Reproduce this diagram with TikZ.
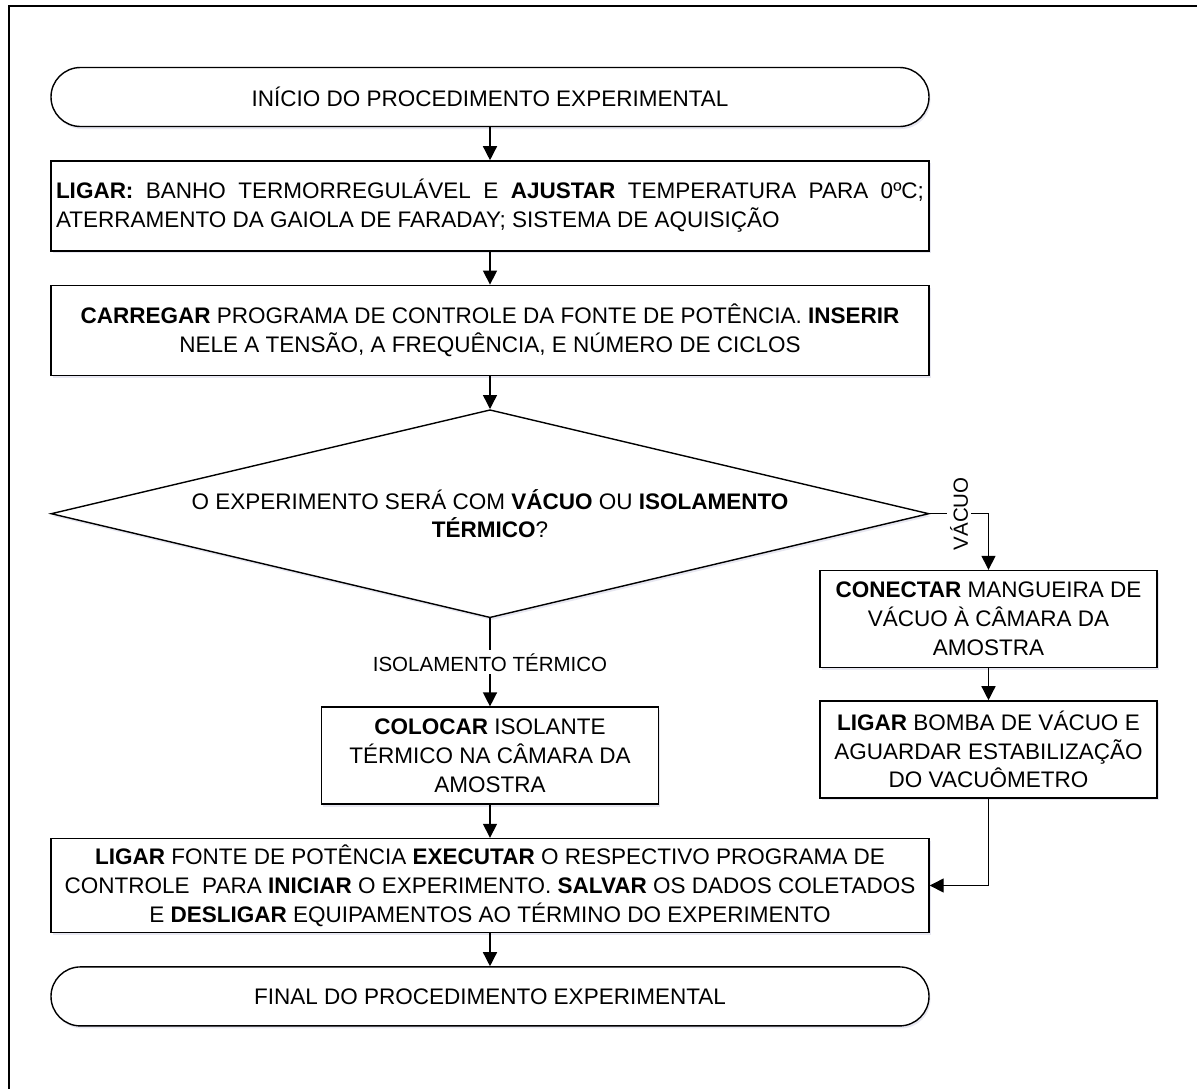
\documentclass[tikz,border=0pt]{standalone}
\usepackage{fontspec}
\setmainfont{Liberation Sans}
\usetikzlibrary{arrows.meta,chains,positioning,scopes,shapes.geometric,shadows}
\newcommand\boxfont{\fontsize{22.5}{28.8}\selectfont}
\newcommand\tagfont{\fontsize{20.5}{24}\selectfont}
\tikzset{>={Triangle[length=14pt,width=14pt]},
         every on chain/.append style={join},
         every join/.style={->}}

\begin{document}
\begin{tikzpicture}[x=1pt, y=-1pt, line width=1.4pt,
	box/.style={draw, fill=white, font=\boxfont,
		drop shadow={shadow xshift=1.5pt, shadow yshift=-2.5pt, fill=blue!25!gray, opacity=0.15}},
	terminal/.style={box, rounded corners=29.5pt, minimum width=878pt, minimum height=59pt},
	process/.style={box, minimum width=878pt, minimum height=90pt, align=center},
	sidebox/.style={box, minimum width=337pt, minimum height=97pt, align=center},
	decision/.style={box, diamond, shape aspect=4.22, minimum width=878pt,
		minimum height=208pt, inner sep=0pt, align=center},
	tag/.style={fill=white, font=\tagfont, inner sep=3pt}]

	\useasboundingbox (0,0) rectangle (1197,1088);
	% outer frame
	\draw (1215,6) -- (9,6) -- (9,1100);

	% main column
	\node[terminal] (ini) at (490,97) {INÍCIO DO PROCEDIMENTO EXPERIMENTAL};
	\node[process, below=33pt of ini, text width=868pt, inner xsep=5pt, align=justify] (lig)
		{\textbf{LIGAR:} BANHO TERMORREGULÁVEL E \textbf{AJUSTAR} TEMPERATURA PARA 0ºC;\linebreak
		 ATERRAMENTO DA GAIOLA DE FARADAY; SISTEMA DE AQUISIÇÃO};
	\node[process, below=33pt of lig] (car)
		{\textbf{CARREGAR} PROGRAMA DE CONTROLE DA FONTE DE POTÊNCIA. \textbf{INSERIR}\\
		 NELE A TENSÃO, A FREQUÊNCIA, E NÚMERO DE CICLOS};
	\node[decision, below=33pt of car] (dia)
		{O EXPERIMENTO SERÁ COM \textbf{VÁCUO} OU \textbf{ISOLAMENTO}\\ \textbf{TÉRMICO}?};

	% branches
	\node[sidebox, below=88pt of dia] (col)
		{\textbf{COLOCAR} ISOLANTE\\ TÉRMICO NA CÂMARA DA\\ AMOSTRA};
	\node[sidebox] (con) at (988.5,619)
		{\textbf{CONECTAR} MANGUEIRA DE\\ VÁCUO À CÂMARA DA\\ AMOSTRA};
	\node[sidebox, below=32pt of con] (bom)
		{\textbf{LIGAR} BOMBA DE VÁCUO E\\ AGUARDAR ESTABILIZAÇÃO\\ DO VACUÔMETRO};

	\node[process, minimum height=94pt, below=33pt of col] (fin)
		{\textbf{LIGAR} FONTE DE POTÊNCIA \textbf{EXECUTAR} O RESPECTIVO PROGRAMA DE\\
		 CONTROLE \ PARA \textbf{INICIAR} O EXPERIMENTO. \textbf{SALVAR} OS DADOS COLETADOS\\
		 E \textbf{DESLIGAR} EQUIPAMENTOS AO TÉRMINO DO EXPERIMENTO};
	\node[terminal, below=33pt of fin] (fim) {FINAL DO PROCEDIMENTO EXPERIMENTAL};

	{ [start chain] \chainin (ini); \chainin (lig); \chainin (car); \chainin (dia); }
	{ [start chain] \chainin (col); \chainin (fin); \chainin (fim); }
	{ [start chain] \chainin (con); \chainin (bom); }

	\draw[->] (dia.south) -- node[tag] {ISOLAMENTO TÉRMICO} (col.north);
	\draw[->] (dia.east) -- node[tag, rotate=90] {VÁCUO} (dia.east -| con.north) -- (con.north);
	\draw[->] (bom.south) |- (fin.east);
\end{tikzpicture}
\end{document}
